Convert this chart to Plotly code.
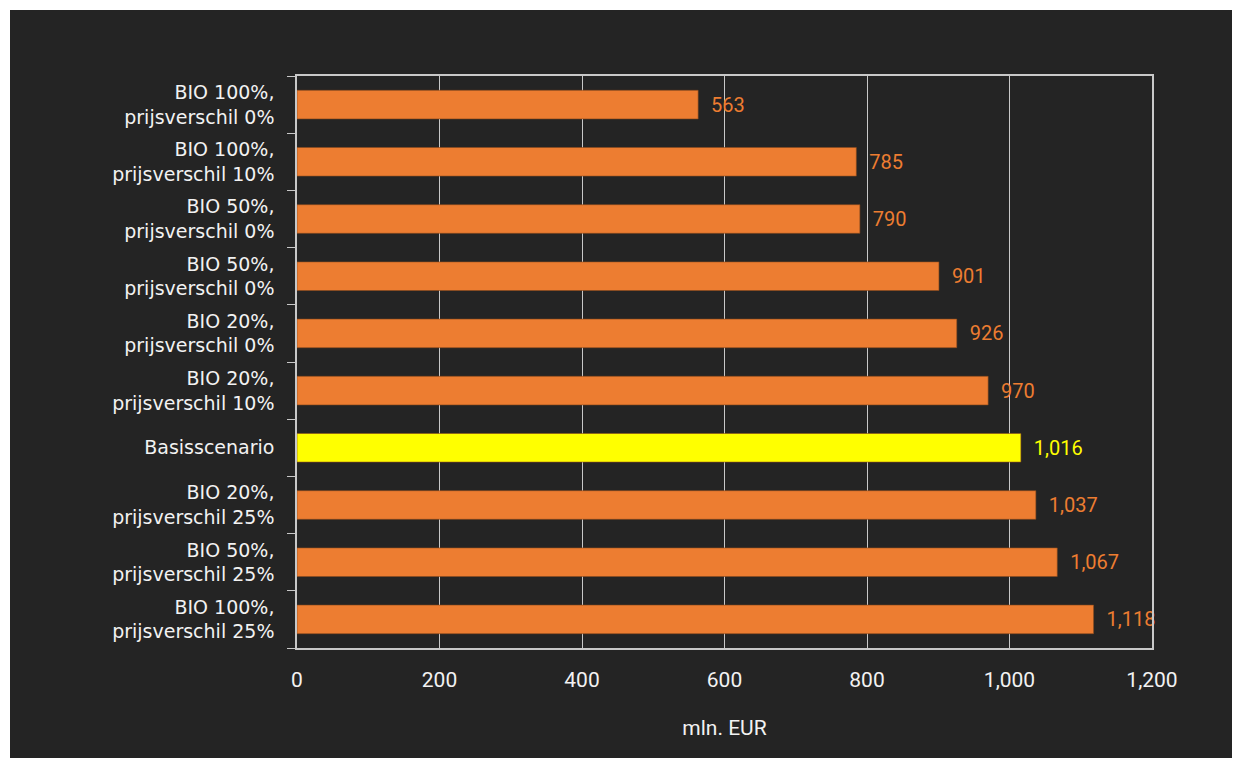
import plotly.graph_objects as go

categories = [
    "BIO 100%,<br>prijsverschil 0%",
    "BIO 100%,<br>prijsverschil 10%",
    "BIO 50%,<br>prijsverschil 0%",
    "BIO 50%,<br>prijsverschil 0%",
    "BIO 20%,<br>prijsverschil 0%",
    "BIO 20%,<br>prijsverschil 10%",
    "Basisscenario",
    "BIO 20%,<br>prijsverschil 25%",
    "BIO 50%,<br>prijsverschil 25%",
    "BIO 100%,<br>prijsverschil 25%",
]
values = [563, 785, 790, 901, 926, 970, 1016, 1037, 1067, 1118]
highlight = "Basisscenario"
x_ticks = [0, 200, 400, 600, 800, 1000, 1200]

ORANGE = "#ED7D31"
YELLOW = "#FFFF00"
colors = [YELLOW if c == highlight else ORANGE for c in categories]
positions = list(range(len(categories)))

fig = go.Figure(go.Bar(
    x=values,
    y=positions,
    orientation="h",
    marker=dict(color=colors, line=dict(color="#8a4a1c", width=0.6)),
    width=0.5,
    text=["\u00a0\u00a0" + f"{v:,}" for v in values],
    textposition="outside",
    textfont=dict(color=colors, size=20, family="Roboto"),
    cliponaxis=False,
))

fig.update_layout(
    width=1240, height=764,
    paper_bgcolor="white",
    plot_bgcolor="#242424",
    margin=dict(l=297, r=88, t=76, b=116),
    showlegend=False,
    font=dict(family="Roboto", color="#f2f2f2", size=18),
    xaxis=dict(
        range=[0, 1200],
        tickvals=x_ticks,
        ticktext=[f"{v:,}" for v in x_ticks],
        showgrid=True, gridcolor="#c8c8c8", gridwidth=1,
        showline=True, linecolor="#c8c8c8", linewidth=1.5, mirror=True,
        zeroline=False,
        tickfont=dict(size=21, color="#f2f2f2"),
        ticks="", ticklabelstandoff=12,
        title=dict(text="mln. EUR", font=dict(size=21, color="#f2f2f2"), standoff=29),
    ),
    yaxis=dict(
        range=[len(categories) - 0.5, -0.5],
        tickvals=positions,
        ticktext=categories,
        tickfont=dict(family="DejaVu Sans", size=19, color="#f2f2f2"),
        ticklabelstandoff=17,
        ticks="", showgrid=False, zeroline=False,
        showline=True, linecolor="#c8c8c8", linewidth=1.5, mirror=True,
        minor=dict(tickvals=[p + 0.5 for p in positions] + [-0.5], ticks="outside",
                   ticklen=8, tickcolor="#c8c8c8", showgrid=False),
    ),
    shapes=[dict(
        type="rect", xref="paper", yref="paper", layer="below",
        x0=(10 - 297) / 855, x1=(1232 - 297) / 855,
        y0=(764 - 758 - 116) / 572, y1=(764 - 10 - 116) / 572,
        fillcolor="#242424", line=dict(width=0),
    )],
)

fig.write_html("out.html")
